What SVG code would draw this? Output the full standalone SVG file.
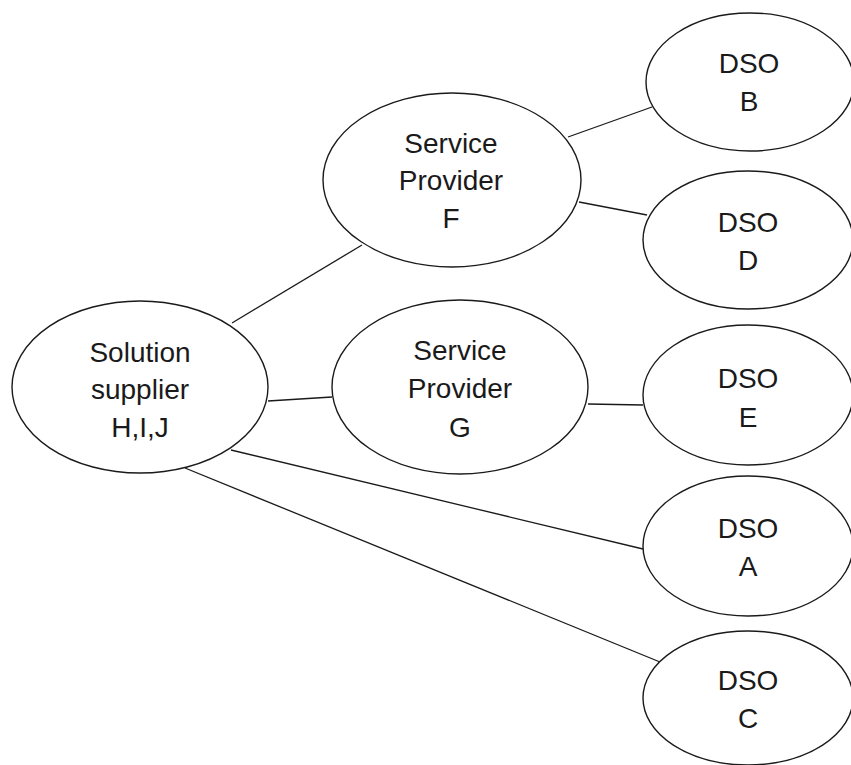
<svg xmlns="http://www.w3.org/2000/svg" width="851" height="765" viewBox="0 0 851 765">
<style>
  .node ellipse { fill: #ffffff; stroke: #1a1a1a; stroke-width: 1.4; }
  .node text { font-family: "Liberation Sans", Arial, sans-serif; font-size: 28px; fill: #1a1a1a; text-anchor: middle; }
  .conn line { stroke: #1a1a1a; stroke-width: 1.3; }
</style>
<rect width="851" height="765" fill="#ffffff"/>
<g id="connectors" class="conn">
  <line x1="232" y1="323" x2="362" y2="245"/>
  <line x1="268" y1="401" x2="332" y2="397"/>
  <line x1="231" y1="450" x2="643" y2="549"/>
  <line x1="185" y1="468" x2="660" y2="662"/>
  <line x1="568" y1="137" x2="652" y2="107"/>
  <line x1="579" y1="202" x2="647" y2="215"/>
  <line x1="588" y1="404" x2="643" y2="405"/>
</g>
<g id="solution-supplier" class="node">
  <ellipse cx="140" cy="387" rx="128" ry="86"/>
  <text x="140" y="362">Solution</text>
  <text x="140" y="399">supplier</text>
  <text x="140" y="437">H,I,J</text>
</g>
<g id="service-provider-f" class="node">
  <ellipse cx="452" cy="180" rx="129" ry="87"/>
  <text x="451" y="153">Service</text>
  <text x="451" y="190">Provider</text>
  <text x="451" y="228">F</text>
</g>
<g id="service-provider-g" class="node">
  <ellipse cx="460" cy="387" rx="128" ry="87"/>
  <text x="460" y="360">Service</text>
  <text x="460" y="398">Provider</text>
  <text x="460" y="437">G</text>
</g>
<g id="dso-b" class="node">
  <ellipse cx="750" cy="82" rx="104" ry="69"/>
  <text x="749" y="73">DSO</text>
  <text x="749" y="111">B</text>
</g>
<g id="dso-d" class="node">
  <ellipse cx="748" cy="240" rx="105" ry="69"/>
  <text x="748" y="232">DSO</text>
  <text x="748" y="270">D</text>
</g>
<g id="dso-e" class="node">
  <ellipse cx="748" cy="395" rx="105" ry="70"/>
  <text x="748" y="388">DSO</text>
  <text x="748" y="427">E</text>
</g>
<g id="dso-a" class="node">
  <ellipse cx="748" cy="546" rx="105" ry="70"/>
  <text x="748" y="538">DSO</text>
  <text x="748" y="576">A</text>
</g>
<g id="dso-c" class="node">
  <ellipse cx="748" cy="698" rx="105" ry="67"/>
  <text x="748" y="690">DSO</text>
  <text x="748" y="728">C</text>
</g>
</svg>
